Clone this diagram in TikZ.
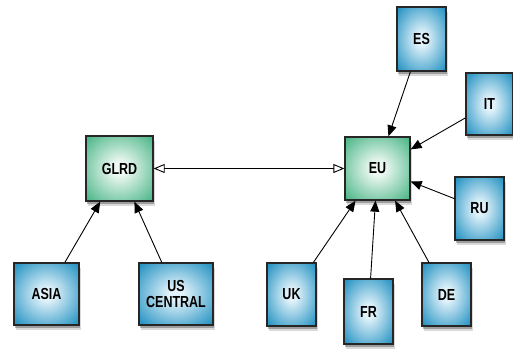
\documentclass[tikz,border=0pt]{standalone}
\usepackage{fontspec}
\setmainfont{Liberation Sans}[FakeStretch=0.78]
\usetikzlibrary{arrows.meta,shadows}
\definecolor{bluein}{RGB}{225,242,250}
\definecolor{blueout}{RGB}{36,146,194}
\definecolor{greenin}{RGB}{238,249,243}
\definecolor{greenout}{RGB}{76,182,136}
\pgfdeclareradialshading{blueshade}{\pgfpoint{0bp}{0bp}}{color(0bp)=(bluein);color(5bp)=(bluein);color(34bp)=(blueout);color(50bp)=(blueout)}
\pgfdeclareradialshading{greenshade}{\pgfpoint{0bp}{0bp}}{color(0bp)=(greenin);color(5bp)=(greenin);color(34bp)=(greenout);color(50bp)=(greenout)}
\tikzset{
  box/.style={draw=black!85, line width=1.3pt, inner sep=0pt, align=center,
    font=\bfseries\fontsize{16}{16.5}\selectfont,
    drop shadow={shadow xshift=1.5pt, shadow yshift=-5pt, opacity=0.15, fill=black},
    drop shadow={shadow xshift=1pt, shadow yshift=-3pt, opacity=0.28, fill=black}},
  bluebox/.style={box, shading=blueshade},
  greenbox/.style={box, shading=greenshade},
  conn/.style={line width=0.9pt, -{Triangle[length=11pt,width=9pt]}},
  dconn/.style={line width=0.9pt, {Triangle[open,length=11pt,width=9pt,fill=white]}-{Triangle[open,length=11pt,width=9pt,fill=white]}}
}
\begin{document}
\begin{tikzpicture}[x=1pt,y=1pt]
\useasboundingbox (0,0) rectangle (513,349);
\node[greenbox, minimum width=67pt, minimum height=65pt] (glrd) at (119.5,180.5) {GLRD};
\node[greenbox, minimum width=65pt, minimum height=63pt] (eu) at (377.5,180.5) {EU};
\node[bluebox, minimum width=49pt, minimum height=64pt] (es) at (421.5,310) {ES};
\node[bluebox, minimum width=47pt, minimum height=62pt] (it) at (489.5,245) {IT};
\node[bluebox, minimum width=49pt, minimum height=63pt] (ru) at (479.5,140.5) {RU};
\node[bluebox, minimum width=65pt, minimum height=62pt] (asia) at (46.5,55) {ASIA};
\node[bluebox, minimum width=74pt, minimum height=62pt] (us) at (176,55) {US\\CENTRAL};
\node[bluebox, minimum width=49pt, minimum height=63pt] (uk) at (291.5,54.5) {UK};
\node[bluebox, minimum width=49pt, minimum height=65pt] (fr) at (368.5,37.5) {FR};
\node[bluebox, minimum width=49pt, minimum height=63pt] (de) at (446.5,54.5) {DE};
\draw[conn] (asia) -- (glrd);
\draw[conn] (us) -- (glrd);
\draw[dconn] (glrd) -- (eu);
\draw[conn] (es) -- (eu);
\draw[conn] (it) -- (eu);
\draw[conn] (ru) -- (eu);
\draw[conn] (uk) -- (eu);
\draw[conn] (fr) -- (eu);
\draw[conn] (de) -- (eu);
\end{tikzpicture}
\end{document}
